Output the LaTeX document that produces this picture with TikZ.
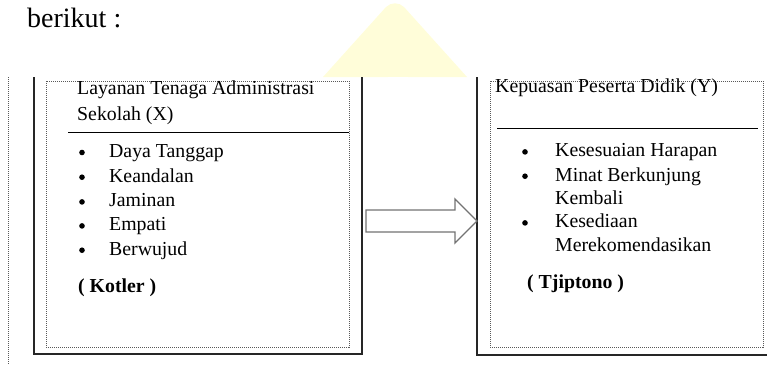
\documentclass[tikz,border=0pt]{standalone}
\usepackage{fontspec}
\setmainfont{Liberation Serif}
\begin{document}
\begin{tikzpicture}[x=1pt,y=-1pt,
  frame/.style={draw=black!85,line width=1.3pt},
  dotbox/.style={draw=black!65,line width=0.9pt,dash pattern=on 1pt off 1pt},
  rule/.style={draw=black,line width=1pt},
  txt/.style={anchor=base west,inner sep=0pt,font=\fontsize{19.8}{22}\selectfont},
  btxt/.style={anchor=base west,inner sep=0pt,font=\fontsize{19.8}{22}\selectfont\bfseries},
  dot/.style={circle,fill=black,inner sep=0pt,minimum size=5.6pt}]
\useasboundingbox (0,0) rectangle (767,365);
% watermark
\fill[yellow!15] (323,77) -- (386,7) to[out=45,in=135] (404,7) -- (467,77) -- cycle;
\fill[white] (388,77) arc[start angle=180,end angle=0,radius=10];
% title
\node[anchor=base west,inner sep=0pt,font=\fontsize{28}{32}\selectfont] (title) at (27,27) {berikut :};
% left dotted page line
\coordinate (pl1) at (8,77);
\coordinate (pl2) at (8,365);
\draw[dotbox] (pl1) -- (pl2);
% left frame
\coordinate (la) at (34,77);
\coordinate (lb) at (34,354);
\coordinate (lc) at (362,354);
\coordinate (ld) at (362,77);
\draw[frame] (la) -- (lb) -- (lc) -- (ld);
\draw[dotbox] (46,81) rectangle (349,347);
\coordinate (lr1) at (68,132);
\coordinate (lr2) at (349,132);
\draw[rule] (lr1) -- (lr2);
\node[txt] (lt1) at (77,94.3) {Layanan Tenaga Administrasi};
\node[txt] (lt2) at (77,120.7) {Sekolah (X)};
\foreach \y/\t [count=\i] in {157.3/Daya Tanggap,182/Keandalan,206.7/Jaminan,230.7/Empati,255/Berwujud}{
  \node[dot] (lb\i) at (82,\y-4.8) {};
  \node[txt] (li\i) at (109,\y) {\t};
}
\node[btxt] (kotler) at (78,292.7) {( Kotler )};
% right frame
\coordinate (ra) at (477,77);
\coordinate (rb) at (477,355);
\coordinate (rc) at (767,355);
\draw[frame] (ra) -- (rb) -- (rc);
\draw[dotbox] (490,81) rectangle (763,347);
\coordinate (rr1) at (497,128);
\coordinate (rr2) at (758,128);
\draw[rule] (rr1) -- (rr2);
\node[txt] (rt1) at (495,92.7) {Kepuasan Peserta Didik (Y)};
\node[dot] (rb1) at (525,156.7-4.8) {};
\node[txt] (ri1) at (555,156.7) {Kesesuaian Harapan};
\node[dot] (rb2) at (525,181-4.8) {};
\node[txt] (ri2) at (555,181) {Minat Berkunjung};
\node[txt] (ri2b) at (555,204.3) {Kembali};
\node[dot] (rb3) at (525,227.7-4.8) {};
\node[txt] (ri3) at (555,227.7) {Kesediaan};
\node[txt] (ri3b) at (555,251.7) {Merekomendasikan};
\node[btxt] (tjip) at (527,288.3) {( Tjiptono )};
% block arrow
\draw[draw=black!55,line width=1.3pt,fill=white,line join=miter]
  (366,210) -- (455,210) -- (455,199) -- (477,221) -- (455,243) -- (455,232) -- (366,232) -- cycle;
\end{tikzpicture}
\end{document}
